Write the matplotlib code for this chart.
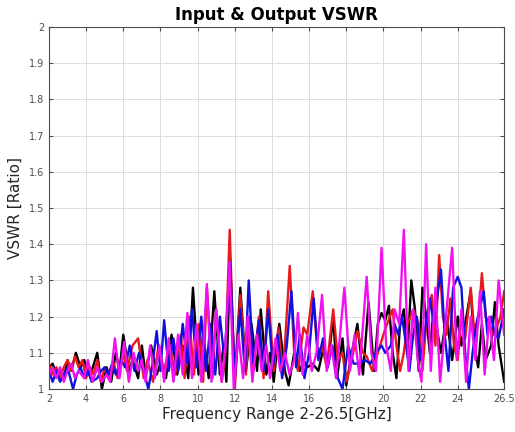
import numpy as np
import matplotlib
matplotlib.use("Agg")
import matplotlib.pyplot as plt

# black trace
f_k = [2.0, 2.2, 2.4, 2.6, 2.8, 3.0, 3.2, 3.45, 3.7, 3.9, 4.1, 4.3, 4.6, 4.85, 5.1, 5.35, 5.6, 5.8,
       6.0, 6.3, 6.5, 6.8, 7.0, 7.2, 7.5, 7.8, 8.0, 8.3, 8.6, 8.9, 9.2, 9.5, 9.75, 10.05, 10.3, 10.6,
       10.9, 11.2, 11.4, 11.55, 11.75, 12.0, 12.3, 12.6, 12.9, 13.2, 13.4, 13.7, 13.9, 14.1, 14.4,
       14.7, 14.9, 15.2, 15.5, 15.7, 15.9, 16.2, 16.5, 16.8, 17.0, 17.3, 17.5, 17.8, 18.0, 18.3,
       18.6, 18.9, 19.2, 19.5, 19.7, 19.9, 20.1, 20.3, 20.5, 20.7, 20.9, 21.1, 21.3, 21.5, 21.7,
       21.9, 22.1, 22.3, 22.5, 22.7, 22.9, 23.1, 23.4, 23.7, 24.0, 24.2, 24.4, 24.7, 24.9, 25.1,
       25.3, 25.5, 25.8, 26.0, 26.2, 26.5]
v_k = [1.06, 1.07, 1.04, 1.05, 1.03, 1.08, 1.05, 1.10, 1.06, 1.08, 1.04, 1.05, 1.10, 1.00, 1.06, 1.02, 1.10, 1.05,
       1.15, 1.05, 1.08, 1.03, 1.12, 1.04, 1.12, 1.04, 1.07, 1.03, 1.15, 1.04, 1.12, 1.03, 1.28, 1.04, 1.15, 1.03,
       1.27, 1.04, 1.12, 1.02, 1.36, 1.02, 1.28, 1.05, 1.18, 1.05, 1.22, 1.04, 1.10, 1.02, 1.18,
       1.05, 1.01, 1.10, 1.05, 1.08, 1.06, 1.07, 1.05, 1.12, 1.06, 1.20, 1.03, 1.14, 1.01, 1.10,
       1.18, 1.04, 1.24, 1.05, 1.18, 1.21, 1.19, 1.23, 1.10, 1.03, 1.18, 1.22, 1.10, 1.30, 1.22,
       1.05, 1.28, 1.20, 1.10, 1.22, 1.16, 1.10, 1.20, 1.08, 1.20, 1.12, 1.18, 1.27, 1.12, 1.06,
       1.18, 1.08, 1.12, 1.24, 1.12, 1.02]

# red trace
f_r = [2.0, 2.2, 2.4, 2.6, 2.8, 3.0, 3.2, 3.4, 3.6, 3.8, 4.0, 4.2, 4.4, 4.6, 4.8, 5.0, 5.2, 5.5, 5.7,
       6.0, 6.2, 6.5, 6.8, 7.1, 7.3, 7.6, 7.9, 8.2, 8.5, 8.8, 9.1, 9.3, 9.55, 9.8, 10.1, 10.3, 10.5,
       10.8, 11.0, 11.3, 11.5, 11.73, 12.0, 12.3, 12.6, 12.8, 13.0, 13.3, 13.55, 13.8, 14.1, 14.35,
       14.6, 14.96, 15.2, 15.4, 15.7, 15.9, 16.2, 16.45, 16.7, 16.95, 17.3, 17.55, 17.8, 18.0, 18.3,
       18.6, 18.9, 19.1, 19.4, 19.7, 20.0, 20.2, 20.5, 20.7, 20.9, 21.1, 21.3, 21.6, 21.9, 22.1,
       22.3, 22.6, 22.8, 23.0, 23.2, 23.4, 23.6, 23.8, 24.0, 24.2, 24.4, 24.7, 24.9, 25.1, 25.3,
       25.5, 25.7, 25.9, 26.1, 26.3, 26.5]
v_r = [1.07, 1.04, 1.06, 1.03, 1.06, 1.08, 1.05, 1.09, 1.06, 1.08, 1.03, 1.06, 1.04, 1.08, 1.02, 1.06, 1.03, 1.07, 1.03,
       1.10, 1.05, 1.12, 1.14, 1.03, 1.08, 1.02, 1.12, 1.05, 1.12, 1.04, 1.15, 1.03, 1.20, 1.04, 1.18, 1.02, 1.28,
       1.03, 1.22, 1.02, 1.10, 1.44, 1.00, 1.26, 1.04, 1.20, 1.05, 1.20, 1.03, 1.27, 1.05, 1.17,
       1.04, 1.34, 1.10, 1.05, 1.17, 1.15, 1.27, 1.10, 1.12, 1.06, 1.22, 1.08, 1.10, 1.02, 1.08,
       1.16, 1.10, 1.09, 1.05, 1.10, 1.15, 1.18, 1.22, 1.12, 1.05, 1.10, 1.18, 1.22, 1.18, 1.05,
       1.18, 1.26, 1.12, 1.37, 1.20, 1.15, 1.25, 1.12, 1.08, 1.20, 1.14, 1.28, 1.15, 1.18, 1.32,
       1.20, 1.18, 1.15, 1.17, 1.20, 1.27]

# blue trace
f_b = [2.0, 2.2, 2.4, 2.6, 2.8, 3.0, 3.3, 3.5, 3.7, 3.9, 4.1, 4.3, 4.6, 4.8, 5.0, 5.2, 5.4, 5.6, 5.9,
       6.1, 6.35, 6.6, 6.85, 7.1, 7.35, 7.55, 7.8, 8.0, 8.2, 8.45, 8.7, 8.95, 9.2, 9.45, 9.7, 9.95,
       10.2, 10.45, 10.7, 10.95, 11.2, 11.45, 11.75, 12.0, 12.3, 12.55, 12.75, 13.0, 13.3, 13.55,
       13.8, 14.05, 14.3, 14.55, 14.8, 15.05, 15.3, 15.5, 15.75, 16.0, 16.25, 16.5, 16.75, 17.0,
       17.25, 17.55, 17.8, 18.1, 18.4, 18.7, 19.0, 19.3, 19.6, 19.9, 20.1, 20.4, 20.6, 20.8, 21.0,
       21.2, 21.4, 21.6, 21.8, 22.0, 22.2, 22.5, 22.7, 23.1, 23.3, 23.5, 23.75, 24.0, 24.2, 24.4,
       24.6, 24.8, 25.0, 25.4, 25.6, 25.8, 26.0, 26.2, 26.5]
v_b = [1.05, 1.02, 1.05, 1.02, 1.04, 1.06, 1.00, 1.04, 1.06, 1.03, 1.05, 1.02, 1.03, 1.05, 1.06, 1.04, 1.07, 1.04, 1.08,
       1.06, 1.12, 1.05, 1.10, 1.05, 1.00, 1.06, 1.16, 1.05, 1.19, 1.05, 1.14, 1.05, 1.18, 1.07, 1.22, 1.06,
       1.20, 1.05, 1.18, 1.04, 1.20, 1.08, 1.35, 1.03, 1.22, 1.05, 1.30, 1.07, 1.19, 1.05,
       1.22, 1.06, 1.15, 1.03, 1.12, 1.27, 1.06, 1.15, 1.03, 1.10, 1.25, 1.08, 1.14, 1.06,
       1.12, 1.03, 1.00, 1.12, 1.07, 1.07, 1.08, 1.07, 1.10, 1.12, 1.10, 1.12, 1.18, 1.15, 1.20,
       1.13, 1.05, 1.15, 1.20, 1.08, 1.15, 1.25, 1.18, 1.33, 1.15, 1.05, 1.28, 1.31, 1.28, 1.10,
       1.00, 1.10, 1.18, 1.27, 1.15, 1.20, 1.15, 1.14, 1.22]

# magenta trace
f_m = [2.0, 2.2, 2.4, 2.6, 2.8, 3.0, 3.2, 3.4, 3.6, 3.9, 4.1, 4.35, 4.6, 4.85, 5.1, 5.3, 5.55, 5.8,
       6.05, 6.3, 6.55, 6.8, 7.0, 7.2, 7.45, 7.7, 7.95, 8.2, 8.45, 8.7, 8.95, 9.2, 9.45, 9.7, 9.95,
       10.2, 10.5, 10.75, 11.0, 11.3, 11.5, 11.72, 11.95, 12.2, 12.45, 12.7, 12.95, 13.2, 13.45,
       13.7, 13.9, 14.2, 14.45, 14.7, 14.95, 15.2, 15.4, 15.65, 15.9, 16.15, 16.4, 16.7, 16.95,
       17.2, 17.45, 17.9, 18.2, 18.45, 18.7, 19.1, 19.35, 19.6, 19.9, 20.15, 20.4, 20.6, 20.85,
       21.1, 21.35, 21.6, 21.85, 22.05, 22.3, 22.55, 22.8, 23.05, 23.3, 23.7, 23.95, 24.2, 24.45,
       24.7, 24.95, 25.2, 25.45, 25.7, 25.95, 26.2, 26.5]
v_m = [1.04, 1.06, 1.03, 1.06, 1.02, 1.05, 1.07, 1.03, 1.05, 1.03, 1.08, 1.02, 1.06, 1.02, 1.04, 1.02, 1.14, 1.03,
       1.13, 1.02, 1.10, 1.05, 1.08, 1.02, 1.12, 1.03, 1.12, 1.02, 1.14, 1.02, 1.15, 1.04, 1.21, 1.03, 1.18,
       1.02, 1.29, 1.02, 1.22, 1.02, 1.12, 1.35, 1.00, 1.15, 1.03, 1.20, 1.02, 1.15, 1.05,
       1.12, 1.03, 1.14, 1.05, 1.10, 1.04, 1.08, 1.21, 1.04, 1.15, 1.05, 1.10, 1.26, 1.05,
       1.12, 1.03, 1.28, 1.05, 1.15, 1.04, 1.31, 1.10, 1.05, 1.39, 1.12, 1.05, 1.22, 1.18,
       1.44, 1.05, 1.22, 1.08, 1.02, 1.40, 1.05, 1.28, 1.02, 1.16, 1.39, 1.08, 1.22, 1.02,
       1.20, 1.08, 1.27, 1.04, 1.20, 1.08, 1.30, 1.15]

GRAY = "#4d4d4d"

fig = plt.figure(figsize=(5.15, 4.32), dpi=100)
ax = fig.add_axes([0.095, 0.0995, 0.884, 0.838])

for f, v, col in [(f_k, v_k, "black"), (f_r, v_r, "#e8191a"),
                  (f_b, v_b, "#1010e0"), (f_m, v_m, "#f010f0")]:
    ax.plot(f, v, color=col, lw=1.7)

ax.set_xlim(2, 26.5)
ax.set_ylim(1, 2)
ax.set_xticks([2, 4, 6, 8, 10, 12, 14, 16, 18, 20, 22, 24, 26.5])
ax.set_xticklabels(["2", "4", "6", "8", "10", "12", "14", "16", "18", "20", "22", "24", "26.5"])
ax.set_yticks(np.round(np.arange(1, 2.01, 0.1), 1))
ax.set_yticklabels(["1", "1.1", "1.2", "1.3", "1.4", "1.5", "1.6", "1.7", "1.8", "1.9", "2"])
ax.grid(True, color="#dcdcdc", lw=0.7)
ax.tick_params(direction="in", length=3, labelsize=7, colors=GRAY, labelcolor=GRAY,
               top=True, right=True)
for s in ax.spines.values():
    s.set_color(GRAY)
    s.set_linewidth(0.8)

ax.set_xlabel("Frequency Range 2-26.5[GHz]", fontsize=11, color="#262626", labelpad=2)
ax.set_ylabel("VSWR [Ratio]", fontsize=11, color="#262626", labelpad=4)
ax.set_title("Input & Output VSWR", fontsize=12, fontweight="bold", pad=5)

fig.savefig("out.png", dpi=100)
